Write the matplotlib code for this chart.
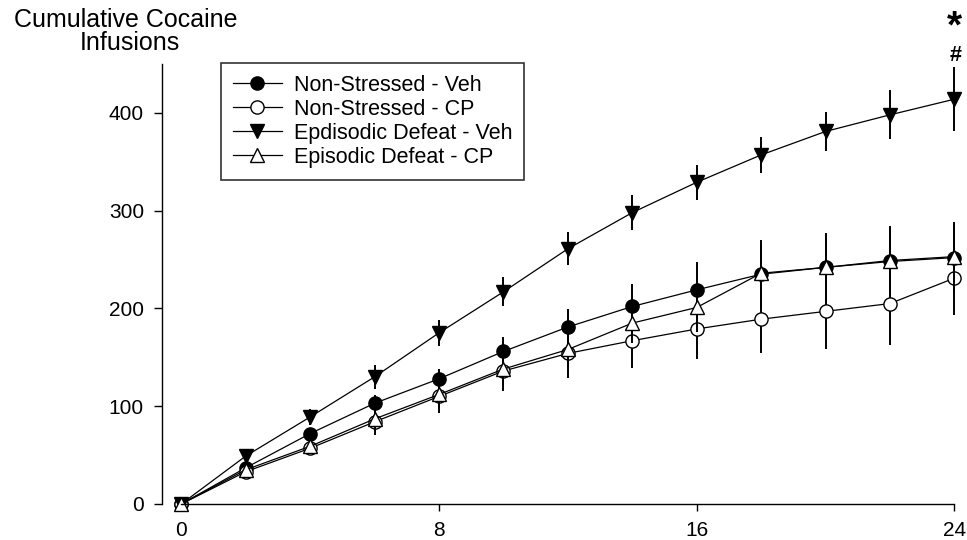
import matplotlib
matplotlib.use("Agg")
import matplotlib.pyplot as plt

plt.rcParams['font.family'] = ['Liberation Sans', 'DejaVu Sans']
plt.rcParams['mathtext.fontset'] = 'custom'
plt.rcParams['mathtext.rm'] = 'Liberation Sans'
plt.rcParams['mathtext.bf'] = 'Liberation Sans:bold'

# Данные (читаются с графика)
hours = [0, 2, 4, 6, 8, 10, 12, 14, 16, 18, 20, 22, 24]

ns_veh = [0, 37, 72, 103, 128, 156, 181, 202, 219, 235, 242, 248, 252]
ns_veh_err = [0, 4, 6, 8, 10, 15, 18, 23, 28, 35, 35, 36, 36]

ns_cp = [0, 33, 57, 84, 110, 136, 154, 167, 179, 189, 197, 205, 231]
ns_cp_err = [0, 4, 7, 13, 17, 20, 25, 28, 31, 35, 38, 42, 38]

ed_veh = [0, 49, 89, 130, 175, 217, 261, 298, 329, 357, 381, 398, 414]
ed_veh_err = [0, 5, 8, 12, 13, 15, 17, 18, 18, 18, 20, 25, 33]

ed_cp = [0, 35, 59, 87, 112, 138, 158, 185, 201, 236, 242, 249, 253]
ed_cp_err = [0, 4, 6, 10, 14, 16, 18, 20, 25, 30, 32, 33, 33]

labels = ["Non-Stressed - Veh", "Non-Stressed - CP",
          "Epdisodic Defeat - Veh", "Episodic Defeat - CP"]

fig = plt.figure(figsize=(9.67, 5.4), dpi=100)
ax = fig.add_axes([0.1675, 0.0667, 0.8325, 0.8148])

series = [
    (ns_veh, ns_veh_err, "o", "black"),
    (ns_cp, ns_cp_err, "o", "white"),
    (ed_veh, ed_veh_err, "v", "black"),
    (ed_cp, ed_cp_err, "^", "white"),
]

for (vals, errs, mk, fc), lab in zip(series, labels):
    ax.errorbar(hours, vals, yerr=errs, fmt="none", ecolor="black",
                elinewidth=1.4, capsize=0, clip_on=False)
    ax.plot(hours, vals, color="black", linewidth=0.9, marker=mk,
            markersize=9.5, markerfacecolor=fc, markeredgecolor="black",
            markeredgewidth=1.0, label=lab, clip_on=False)

ax.set_xlim(-0.6, 24.39)
ax.set_ylim(0, 450)
ax.set_xticks([0, 8, 16, 24])
ax.set_yticks([0, 100, 200, 300, 400])

ax.spines['top'].set_visible(False)
ax.spines['right'].set_visible(False)
ax.spines['bottom'].set_bounds(0, 24)
for s in ('left', 'bottom'):
    ax.spines[s].set_linewidth(1.0)

ax.tick_params(axis='y', direction='out', length=6, width=1.0, pad=7, labelsize=15)
ax.tick_params(axis='x', direction='out', length=5, width=1.0, pad=7, labelsize=15)

# Подпись оси Y сверху
fig.text(126 / 967, 1 - 20 / 540, "Cumulative Cocaine", ha='center', va='center', fontsize=18)
fig.text(130 / 967, 1 - 43 / 540, "Infusions", ha='center', va='center', fontsize=18)

# Значимость (mathtext -> плотные рамки текста)
ax.text(24, 488, r"$\mathbf{*}$", ha='center', va='center', fontsize=28, clip_on=False)
ax.text(24.05, 459, r"$\mathbf{\#}$", ha='center', va='center', fontsize=15.5, clip_on=False)

leg = ax.legend(loc='upper left', bbox_to_anchor=(220.7 / 967, 1 - 63 / 540),
                bbox_transform=fig.transFigure, fontsize=15.5, frameon=True,
                fancybox=False, handlelength=2.3, handletextpad=0.55,
                labelspacing=0.14, borderpad=0.55, borderaxespad=0)
leg.get_frame().set_edgecolor("black")
leg.get_frame().set_linewidth(1.2)

fig.savefig("out.png", dpi=100)
